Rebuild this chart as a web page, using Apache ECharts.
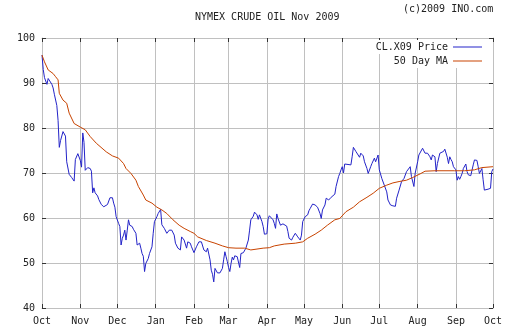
<!DOCTYPE html>
<html><head><meta charset="utf-8">
<script src="https://cdn.jsdelivr.net/npm/echarts@6/dist/echarts.min.js"></script>
<style>html,body{margin:0;padding:0;background:#fff}#c{width:512px;height:335px}</style>
</head><body><div id="c"></div>
<script>
const titleText = 'NYMEX CRUDE OIL Nov 2009';
const creditText = '(c)2009 INO.com';
const priceName = 'CL.X09 Price';
const maName = '50 Day MA';
const monthNames = ['Jan','Feb','Mar','Apr','May','Jun','Jul','Aug','Sep','Oct','Nov','Dec'];
const startDate = Date.UTC(2008, 9, 1);
const dayCount = 366;
const yMin = 40, yMax = 100, yStep = 10;

// day offsets from 2008-10-01 and prices
const priceDays = [0,1,2,4,5,6,8,9,10,12,13,14,15,16,17,18,19,20,22,24,26,27,28,29,31,32,33,34,35,36,37,39,40,41,42,43,45,46,48,50,53,55,57,58,59,60,62,63,64,65,66,67,68,69,70,71,73,74,76,77,79,80,81,82,83,84,86,87,89,90,91,93,94,96,97,99,100,101,103,104,105,107,108,110,112,113,114,115,117,118,120,121,123,124,125,127,129,130,131,133,134,136,137,138,139,140,141,142,144,146,147,148,149,150,151,152,153,154,155,156,158,159,160,161,163,164,165,167,168,169,171,172,174,175,176,178,179,180,181,182,183,184,185,187,188,189,190,191,192,193,195,196,198,199,200,202,203,205,206,207,209,210,211,212,213,214,215,216,217,219,221,222,223,225,226,227,229,230,232,234,235,237,238,240,241,242,243,244,245,246,250,251,252,254,257,258,260,261,263,264,266,267,268,269,270,272,273,275,277,279,280,282,284,286,287,289,291,293,295,296,298,299,300,301,302,304,305,306,308,309,310,312,314,315,316,317,318,319,320,322,323,325,326,328,329,330,331,332,333,335,336,337,338,339,340,341,343,344,345,347,348,349,350,352,353,354,356,357,358,359,361,363,364,365];
const priceValues = [96.2,93.0,91.2,89.7,91.0,90.6,89.7,88.9,87.5,85.0,81.7,75.7,77.2,76.9,79.2,79.3,78.2,72.5,69.7,69.0,68.2,73.0,72.8,74.3,72.8,71.3,78.9,76.8,70.6,70.8,71.2,71.0,70.4,65.6,66.7,65.6,64.9,64.1,63.0,62.5,63.0,64.5,64.5,63.3,62.4,60.3,58.8,58.1,54.0,55.5,56.2,57.3,55.1,57.3,59.6,58.4,58.1,57.5,56.6,54.0,54.4,53.3,52.1,51.5,48.1,49.9,51.0,52.1,53.6,56.6,59.2,60.3,61.0,61.9,58.5,57.7,58.1,56.6,57.3,57.7,57.3,56.2,54.4,53.3,52.9,55.8,55.5,55.1,53.3,54.7,54.4,53.6,52.3,52.3,53.6,54.7,54.7,54.5,52.9,52.5,53.3,50.7,48.4,47.5,45.8,48.8,48.4,47.8,47.8,48.8,50.7,52.5,51.4,50.3,49.0,48.1,49.9,51.3,50.7,51.6,51.4,51.0,49.0,52.1,52.3,52.5,53.3,55.1,57.3,59.6,60.4,61.3,60.7,59.7,60.7,59.2,58.1,56.4,56.0,56.5,59.8,60.5,60.2,59.6,58.8,57.7,60.9,59.9,59.6,58.4,58.7,58.8,58.2,57.0,55.5,55.1,55.7,56.6,56.2,55.8,55.1,56.2,59.2,59.6,60.3,59.9,60.7,61.6,62.1,63.1,62.9,62.9,62.4,61.0,59.9,61.8,62.9,64.4,64.0,64.6,64.9,65.3,67.0,69.2,69.9,70.7,71.4,70.0,72.0,71.8,71.8,73.6,75.7,74.8,73.5,74.4,73.8,72.5,71.0,69.9,71.4,72.1,72.5,73.3,72.5,74.0,70.7,68.8,67.3,65.8,64.0,62.9,62.7,62.6,64.4,66.2,68.1,68.8,70.3,70.3,71.4,69.2,69.0,67.0,69.9,72.5,74.0,74.4,75.5,75.3,74.4,74.4,73.6,72.9,74.0,74.0,73.6,70.3,72.1,74.4,74.6,74.8,75.3,73.5,72.1,73.6,73.0,72.5,71.4,70.7,68.4,69.2,68.6,69.2,69.9,71.0,72.0,70.3,69.6,69.4,69.3,71.8,72.9,72.8,71.4,69.9,71.0,68.5,66.2,66.0,66.4,66.6,70.3,70.9];

const maDays = [0,2,5,9,11,13,14,17,20,22,26,31,35,39,44,52,57,62,66,68,72,76,78,82,84,89,93,97,101,106,111,115,120,123,126,133,140,146,151,157,164,169,174,179,184,188,196,205,211,215,221,226,231,237,241,246,252,257,263,268,273,279,284,289,295,300,306,310,318,334,342,350,356,365];
const maValues = [96.2,94.7,92.9,92.1,91.4,90.7,87.7,86.2,85.5,83.3,81.0,80.2,79.6,78.1,76.6,74.7,73.8,73.3,72.1,71.0,69.9,68.4,67.0,65.1,64.0,63.3,62.4,61.8,61.0,59.6,58.4,57.7,57.0,56.6,55.8,55.0,54.4,53.8,53.4,53.3,53.3,52.9,53.1,53.3,53.4,53.8,54.2,54.4,54.7,55.5,56.4,57.3,58.4,59.6,59.9,61.4,62.4,63.6,64.6,65.5,66.6,67.3,67.8,68.1,68.4,69.0,69.8,70.4,70.5,70.5,70.5,70.7,71.2,71.4];

const categories = [];
for (let i = 0; i < dayCount; i++) {
  categories.push(new Date(startDate + i * 86400000).toISOString().slice(0, 10));
}
const isMonthStart = (idx, val) => String(val).slice(8, 10) === '01';
const monthLabel = (val) => monthNames[parseInt(String(val).slice(5, 7), 10) - 1];

const FONT = 'DejaVu Sans Mono';
const GRID = '#c0c0c0';
const TICK = '#333';
const TXT = '#222';

const chart = echarts.init(document.getElementById('c'), null, {renderer: 'canvas'});
const xBase = {
  type: 'category', data: categories, boundaryGap: false,
  axisLine: {show: true, lineStyle: {color: GRID, width: 1}},
  axisTick: {show: true, inside: true, length: 4, interval: isMonthStart, lineStyle: {color: TICK, width: 1}}
};
const yBase = {
  type: 'value', min: yMin, max: yMax, interval: yStep,
  axisLine: {show: true, lineStyle: {color: GRID, width: 1}},
  axisTick: {show: true, inside: true, length: 4, lineStyle: {color: TICK, width: 1}}
};
const legendBase = {
  orient: 'horizontal', right: 27, align: 'right', itemWidth: 29, itemHeight: 1, icon: 'rect',
  backgroundColor: '#fff', padding: [2, 3], itemGap: 0, selectedMode: false,
  textStyle: {fontFamily: FONT, fontSize: 10, color: TXT}
};
chart.setOption({
  animation: false,
  backgroundColor: '#fff',
  title: [
    {text: titleText, left: 195, top: 12, padding: 0, textStyle: {fontFamily: FONT, fontSize: 10, fontWeight: 'normal', color: TXT}},
    {text: creditText, left: 403, top: 4, padding: 0, textStyle: {fontFamily: FONT, fontSize: 10, fontWeight: 'normal', color: TXT}}
  ],
  legend: [
    Object.assign({}, legendBase, {data: [priceName], top: 40}),
    Object.assign({}, legendBase, {data: [maName], top: 54})
  ],
  grid: {left: 42, right: 19, top: 38, bottom: 27, containLabel: false},
  xAxis: [
    Object.assign({}, xBase, {
      position: 'bottom',
      axisLabel: {show: true, interval: isMonthStart, formatter: monthLabel, fontFamily: FONT, fontSize: 10, color: TXT, margin: 8},
      splitLine: {show: true, interval: isMonthStart, lineStyle: {color: GRID, width: 1}}
    }),
    Object.assign({}, xBase, {
      position: 'top',
      axisLabel: {show: false},
      splitLine: {show: false}
    })
  ],
  yAxis: [
    Object.assign({}, yBase, {
      position: 'left',
      axisLabel: {show: true, fontFamily: FONT, fontSize: 10, color: TXT, margin: 7},
      splitLine: {show: true, lineStyle: {color: GRID, width: 1}}
    }),
    Object.assign({}, yBase, {
      position: 'right',
      axisLabel: {show: false},
      splitLine: {show: false}
    })
  ],
  series: [
    {
      name: priceName, type: 'line', xAxisIndex: 0, yAxisIndex: 0,
      showSymbol: false, symbol: 'none', connectNulls: true,
      lineStyle: {color: '#2323c8', width: 1}, itemStyle: {color: '#2323c8'},
      data: priceDays.map((d, i) => [d, priceValues[i]])
    },
    {
      name: maName, type: 'line', xAxisIndex: 0, yAxisIndex: 0,
      showSymbol: false, symbol: 'none',
      lineStyle: {color: '#c84300', width: 1}, itemStyle: {color: '#c84300'},
      data: maDays.map((d, i) => [d, maValues[i]])
    }
  ]
});
</script></body></html>
